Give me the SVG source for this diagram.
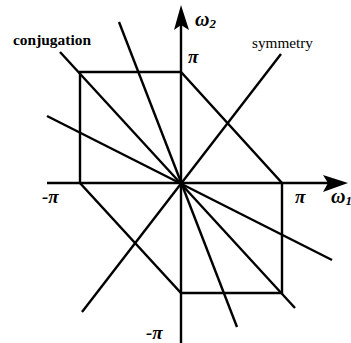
<svg xmlns="http://www.w3.org/2000/svg" width="351" height="343" viewBox="0 0 351 343">
<style>
.ln{stroke:#000;stroke-width:2.4;fill:none;stroke-linecap:butt}
.lbl{font-family:"Liberation Serif","Times New Roman",serif;fill:#000}
.gk{font-family:"Liberation Serif","Times New Roman",serif;font-style:italic;font-weight:bold;fill:#000}
</style>
<rect width="351" height="343" fill="#fff"/>
<g id="region">
<polygon class="ln" points="80,72 181,72 282,183 282,293 181,293 80,183"/>
</g>
<g id="connectors">
<line class="ln" x1="119" y1="22" x2="237" y2="327"/>
<line class="ln" x1="60" y1="52" x2="295" y2="308"/>
<line class="ln" x1="47" y1="116" x2="332" y2="260"/>
<line class="ln" x1="281" y1="54" x2="82" y2="312"/>
</g>
<g id="axes">
<line class="ln" x1="47" y1="183" x2="330" y2="183"/>
<line class="ln" x1="181" y1="343" x2="181" y2="22"/>
<path d="M348,183 L323,175 L328,183 L323,192 Z" fill="#000"/>
<path d="M181,5 L174,30 L181,25 L189,30 Z" fill="#000"/>
</g>
<g id="labels">
<text class="lbl" x="13" y="45" font-size="15" font-weight="bold" textLength="78" lengthAdjust="spacingAndGlyphs">conjugation</text>
<text class="lbl" x="252" y="48" font-size="15" textLength="61" lengthAdjust="spacingAndGlyphs">symmetry</text>
<text class="gk" x="195" y="26" font-size="20">ω<tspan font-size="13" dy="2">2</tspan></text>
<text class="gk" x="188" y="63" font-size="19">π</text>
<text class="gk" x="42" y="203" font-size="19">-π</text>
<text class="gk" x="295" y="203" font-size="19">π</text>
<text class="gk" x="331" y="203" font-size="20">ω<tspan font-size="13" dy="2">1</tspan></text>
<text class="gk" x="146" y="339" font-size="19">-π</text>
</g>
</svg>
